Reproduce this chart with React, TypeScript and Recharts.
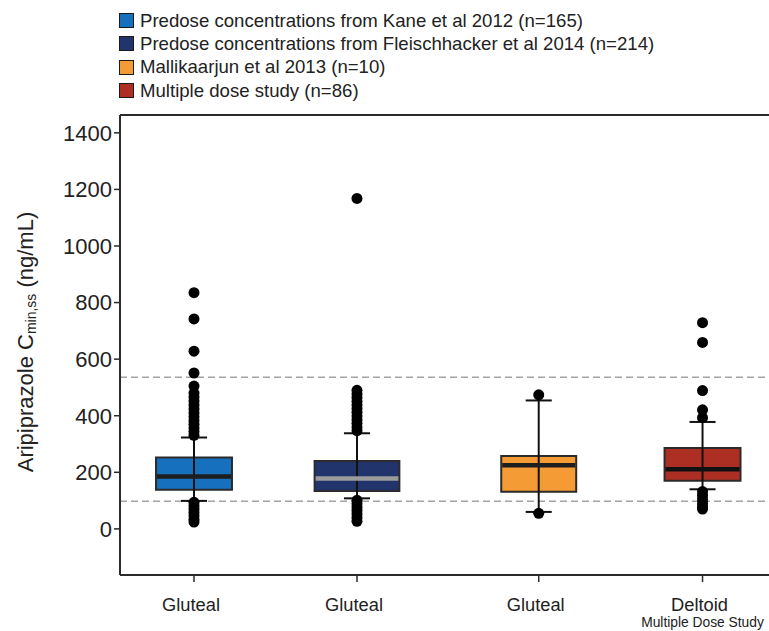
import {
  ComposedChart,
  ReferenceArea,
  ReferenceLine,
  Scatter,
  XAxis,
  YAxis,
} from "recharts"

const LEGEND_LABELS = [
  "Predose concentrations from Kane et al 2012 (n=165)",
  "Predose concentrations from Fleischhacker et al 2014 (n=214)",
  "Mallikaarjun et al 2013 (n=10)",
  "Multiple dose study (n=86)",
]
const X_LABELS = ["Gluteal", "Gluteal", "Gluteal", "Deltoid"]
const X_SUBLABELS = ["", "", "", "Multiple Dose Study"]
const Y_TICKS = [0, 200, 400, 600, 800, 1000, 1200, 1400]

// box statistics, ng/mL
const WHISKER_LOW = [99, 108, 60, 140]
const Q1 = [138, 134, 131, 170]
const MEDIAN = [185, 178, 225, 211]
const Q3 = [252, 240, 258, 286]
const WHISKER_HIGH = [323, 338, 454, 378]
const OUTLIERS = [
  [835, 742, 628, 551, 505, 480, 466, 452, 438, 424, 410, 396, 383, 370, 357, 344, 331, 94, 82, 70, 58, 46, 34, 24],
  [1168, 490, 477, 464, 451, 438, 425, 412, 399, 386, 373, 360, 347, 101, 89, 77, 65, 53, 40, 27],
  [474, 55],
  [729, 659, 489, 421, 393, 132, 118, 104, 90, 78, 70],
]
const REFERENCE_RANGE = [98, 536]

// layout / style
const GROUP_POS = [1, 2, 3.115, 4.12]
const BOX_HALF = [0.233, 0.26, 0.23, 0.233]
const CAP_HALF = 0.08
const X_DOMAIN = [0.546, 4.718]
const Y_DOMAIN = [-163, 1463]
const FILLS = ["#1670be", "#22346c", "#f59b35", "#ad2f24"]
const MEDIAN_COLORS = ["#1e1e1e", "#9b9b9b", "#1e1e1e", "#111111"]
const INK = "#2b2b2b"
const FONT = "'Liberation Sans', Arial, sans-serif"

const outlierPoints = OUTLIERS.flatMap((vals, i) =>
  vals.map((y) => ({ x: GROUP_POS[i], y }))
)

function XTick(props: any) {
  const { x, y, payload } = props
  const i = GROUP_POS.indexOf(payload.value)
  return (
    <g>
      <text x={x - 3} y={y + 27} textAnchor="middle" fontSize={18.3} fill="#222" fontFamily={FONT}>
        {X_LABELS[i]}
      </text>
      {X_SUBLABELS[i] && (
        <text x={x} y={y + 43} textAnchor="middle" fontSize={13.8} fill="#222" fontFamily={FONT}>
          {X_SUBLABELS[i]}
        </text>
      )}
    </g>
  )
}

function YLabel(props: any) {
  const vb = props.viewBox
  const cx = vb.x + 33
  const cy = vb.y + vb.height / 2 - 3
  return (
    <text
      x={cx}
      y={cy}
      transform={`rotate(-90, ${cx}, ${cy})`}
      textAnchor="middle"
      fontSize={22}
      fill="#222"
      fontFamily={FONT}
    >
      Aripiprazole C
      <tspan fontSize={14} dy={3}>min,ss</tspan>
      <tspan dy={-3}> (ng/mL)</tspan>
    </text>
  )
}

function Legend() {
  return (
    <div style={{ position: "absolute", left: 119, top: 9, fontFamily: FONT, fontSize: 18.6, color: "#222" }}>
      {LEGEND_LABELS.map((label, i) => (
        <div key={label} style={{ display: "flex", alignItems: "center", height: 23.3 }}>
          <span
            style={{
              display: "inline-block",
              width: 13,
              height: 13,
              background: FILLS[i],
              border: "1.5px solid #1a1a1a",
              marginRight: 6,
            }}
          />
          <span>{label}</span>
        </div>
      ))}
    </div>
  )
}

export default function App() {
  return (
    <div style={{ position: "absolute", left: 0, top: 0, width: 769, height: 631, overflow: "hidden", background: "#fff" }}>
      <Legend />
      <ComposedChart width={800} height={631} margin={{ top: 115, right: 0, bottom: 0, left: 0 }}>
        <XAxis
          type="number"
          dataKey="x"
          domain={X_DOMAIN}
          ticks={GROUP_POS}
          allowDataOverflow
          height={56}
          tick={<XTick />}
          tickSize={7}
          axisLine={{ stroke: INK, strokeWidth: 2 }}
          tickLine={{ stroke: INK, strokeWidth: 1.5 }}
        />
        <YAxis
          type="number"
          dataKey="y"
          domain={Y_DOMAIN}
          ticks={Y_TICKS}
          allowDataOverflow
          width={120}
          tickSize={6}
          tick={{ fontSize: 22, fill: "#222", fontFamily: FONT }}
          axisLine={{ stroke: INK, strokeWidth: 2 }}
          tickLine={{ stroke: INK, strokeWidth: 1.5 }}
          label={{ content: (p: any) => <YLabel {...p} /> }}
        />
        <ReferenceLine y={Y_DOMAIN[1]} stroke={INK} strokeWidth={2} ifOverflow="visible" />
        {REFERENCE_RANGE.map((v) => (
          <ReferenceLine key={v} y={v} stroke="#a3a3a3" strokeWidth={1.5} strokeDasharray="7 4" />
        ))}
        {GROUP_POS.map((x, i) => (
          <ReferenceArea
            key={`box${i}`}
            x1={x - BOX_HALF[i]}
            x2={x + BOX_HALF[i]}
            y1={Q1[i]}
            y2={Q3[i]}
            fill={FILLS[i]}
            fillOpacity={1}
            stroke={INK}
            strokeWidth={2}
          />
        ))}
        {GROUP_POS.map((x, i) => (
          <ReferenceLine
            key={`wh${i}`}
            segment={[{ x, y: WHISKER_LOW[i] }, { x, y: WHISKER_HIGH[i] }]}
            stroke="#111"
            strokeWidth={2}
          />
        ))}
        {GROUP_POS.map((x, i) => (
          <ReferenceLine
            key={`capl${i}`}
            segment={[{ x: x - CAP_HALF, y: WHISKER_LOW[i] }, { x: x + CAP_HALF, y: WHISKER_LOW[i] }]}
            stroke="#111"
            strokeWidth={2}
          />
        ))}
        {GROUP_POS.map((x, i) => (
          <ReferenceLine
            key={`caph${i}`}
            segment={[{ x: x - CAP_HALF, y: WHISKER_HIGH[i] }, { x: x + CAP_HALF, y: WHISKER_HIGH[i] }]}
            stroke="#111"
            strokeWidth={2}
          />
        ))}
        {GROUP_POS.map((x, i) => (
          <ReferenceLine
            key={`med${i}`}
            segment={[{ x: x - BOX_HALF[i] + 0.006, y: MEDIAN[i] }, { x: x + BOX_HALF[i] - 0.006, y: MEDIAN[i] }]}
            stroke={MEDIAN_COLORS[i]}
            strokeWidth={4.5}
          />
        ))}
        <Scatter
          data={outlierPoints}
          dataKey="y"
          isAnimationActive={false}
          shape={(p: any) => <circle cx={p.cx} cy={p.cy} r={5.5} fill="#000" />}
        />
      </ComposedChart>
    </div>
  )
}
